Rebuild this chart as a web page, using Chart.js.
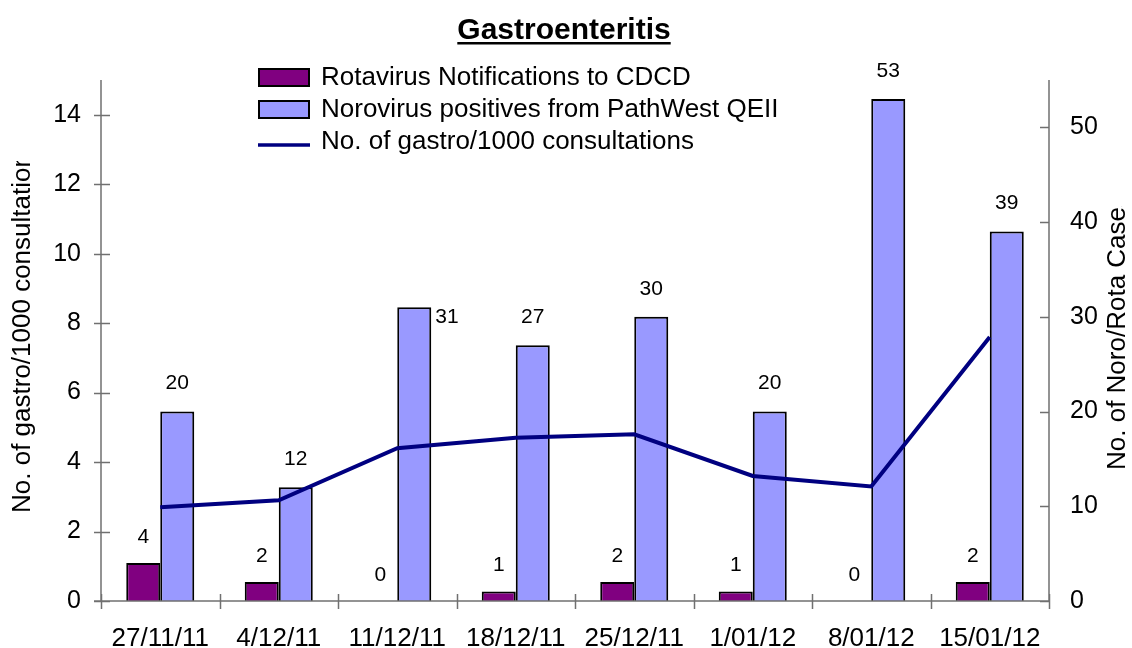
<!DOCTYPE html>
<html>
<head>
<meta charset="utf-8">
<script src="https://cdn.jsdelivr.net/npm/chart.js@4.4.0/dist/chart.umd.min.js"></script>
<style>
  body { margin: 0; background: #fff; }
  #wrap { width: 1132px; height: 648px; position: relative; }
</style>
</head>
<body>
<div id="wrap"><canvas id="myCanvas"></canvas></div>
<script>
// data
const semanas = ["27/11/11", "4/12/11", "11/12/11", "18/12/11", "25/12/11", "1/01/12", "8/01/12", "15/01/12"];
const rotavirus = [4, 2, 0, 1, 2, 1, 0, 2];
const norovirus = [20, 12, 31, 27, 30, 20, 53, 39];
const gastro = [2.7, 2.9, 4.4, 4.7, 4.8, 3.6, 3.3, 7.6];
const ticksIzq = [0, 2, 4, 6, 8, 10, 12, 14];
const ticksDer = [0, 10, 20, 30, 40, 50];

const titulo = "Gastroenteritis";
const tituloIzq = "No. of gastro/1000 consultations";
const tituloDer = "No. of Noro/Rota Cases";
const nombres = ["Rotavirus Notifications to CDCD", "Norovirus positives from PathWest QEII", "No. of gastro/1000 consultations"];

const FUENTE = "'Liberation Sans', Arial, sans-serif";
const gris = "#707070";
const colorRota = "#800080";
const colorNoro = "#9999FF";
const colorLinea = "#000080";

let canvas = document.getElementById("myCanvas");

// ejes, titulos, leyenda y etiquetas dibujados a mano
const extras = {
  id: "extras",
  afterDatasetsDraw(chart) {
    const ctx = chart.ctx;
    const a = chart.chartArea;
    const y = chart.scales.y;
    const y1 = chart.scales.y1;

    ctx.save();
    ctx.strokeStyle = gris;
    ctx.lineWidth = 1.5;
    ctx.beginPath();
    // ejes
    ctx.moveTo(a.left, a.top); ctx.lineTo(a.left, a.bottom);
    ctx.moveTo(a.right, a.top); ctx.lineTo(a.right, a.bottom);
    ctx.moveTo(a.left - 7, a.bottom); ctx.lineTo(a.right + 1, a.bottom);
    // marcas izq (cruzan el eje)
    ticksIzq.forEach(v => {
      const py = Math.round(y.getPixelForValue(v)) + 0.5;
      ctx.moveTo(a.left - 7, py); ctx.lineTo(a.left + 9, py);
    });
    // marcas der (hacia dentro)
    ticksDer.forEach(v => {
      const py = Math.round(y1.getPixelForValue(v)) + 0.5;
      ctx.moveTo(a.right - 9, py); ctx.lineTo(a.right, py);
    });
    // marcas x entre categorias
    const paso = (a.right - a.left) / semanas.length;
    for (let k = 0; k <= semanas.length; k++) {
      const px = Math.round(a.left + k * paso) + 0.5;
      ctx.moveTo(px, a.bottom - 7); ctx.lineTo(px, a.bottom + 8);
    }
    ctx.stroke();

    // etiquetas de las barras
    ctx.fillStyle = "#000";
    ctx.font = "21px " + FUENTE;
    ctx.textAlign = "center";
    ctx.textBaseline = "middle";
    [0, 1].forEach(d => {
      const meta = chart.getDatasetMeta(d);
      const vals = chart.data.datasets[d].data;
      meta.data.forEach((el, i) => {
        if (d === 1 && i === 2) {
          // esta etiqueta va al lado de la barra
          ctx.textAlign = "left";
          ctx.fillText(String(vals[i]), el.x + el.width / 2 + 4, el.y + 10);
          ctx.textAlign = "center";
        } else {
          ctx.fillText(String(vals[i]), el.x, el.y - (d === 0 ? 26 : 28));
        }
      });
    });

    // titulo
    ctx.font = "bold 30px " + FUENTE;
    ctx.textBaseline = "alphabetic";
    ctx.fillText(titulo, 564, 39);
    const w = ctx.measureText(titulo).width;
    ctx.fillRect(564 - w / 2, 42, w, 2.5);

    // leyenda
    ctx.font = "26px " + FUENTE;
    ctx.textAlign = "left";
    ctx.textBaseline = "middle";
    const filas = [77, 109, 141];
    [colorRota, colorNoro].forEach((c, i) => {
      ctx.fillStyle = c;
      ctx.fillRect(259, filas[i] - 8, 50, 17);
      ctx.strokeStyle = "#000";
      ctx.lineWidth = 2;
      ctx.strokeRect(259, filas[i] - 8, 50, 17);
    });
    ctx.strokeStyle = colorLinea;
    ctx.lineWidth = 3.5;
    ctx.beginPath();
    ctx.moveTo(258, filas[2] + 4); ctx.lineTo(310, filas[2] + 4);
    ctx.stroke();
    ctx.fillStyle = "#000";
    nombres.forEach((n, i) => ctx.fillText(n, 321, filas[i] + 1));

    // titulos de ejes (recortados como en el original)
    ctx.font = "26px " + FUENTE;
    ctx.save();
    ctx.beginPath();
    ctx.rect(0, 161, 60, 460);
    ctx.clip();
    ctx.translate(23, 513);
    ctx.rotate(-Math.PI / 2);
    ctx.fillText(tituloIzq, 0, 0);
    ctx.restore();

    ctx.save();
    ctx.beginPath();
    ctx.rect(1095, 206, 37, 400);
    ctx.clip();
    ctx.translate(1118, 470);
    ctx.rotate(-Math.PI / 2);
    ctx.fillText(tituloDer, 0, 0);
    ctx.restore();

    ctx.restore();
  }
};

const generarGrafica = () => {
  window.chart = new Chart(canvas, {
    type: "bar",
    data: {
      labels: semanas,
      datasets: [
        {
          label: nombres[0],
          data: rotavirus,
          yAxisID: "y1",
          backgroundColor: colorRota,
          borderColor: "#000",
          borderWidth: 2,
          borderSkipped: "bottom",
          categoryPercentage: 0.574,
          barPercentage: 1,
          order: 1,
        },
        {
          label: nombres[1],
          data: norovirus,
          yAxisID: "y1",
          backgroundColor: colorNoro,
          borderColor: "#000",
          borderWidth: 2,
          borderSkipped: "bottom",
          categoryPercentage: 0.574,
          barPercentage: 1,
          order: 1,
        },
        {
          type: "line",
          label: nombres[2],
          data: gastro,
          yAxisID: "y",
          borderColor: colorLinea,
          borderWidth: 4,
          pointRadius: 0,
          tension: 0,
          order: 0,
        },
      ],
    },
    options: {
      responsive: true,
      maintainAspectRatio: false,
      animation: false,
      layout: { padding: { top: 80, left: 0, right: 0, bottom: 0 } },
      plugins: {
        legend: { display: false },
        title: { display: false },
        tooltip: { enabled: false },
      },
      scales: {
        x: {
          grid: { display: false, drawTicks: false },
          border: { display: false },
          ticks: {
            color: "#000",
            font: { family: FUENTE, size: 26 },
            padding: 22,
            maxRotation: 0,
            autoSkip: false,
          },
          afterFit: (s) => { s.height = 47; },
        },
        y: {
          position: "left",
          min: 0,
          max: 15,
          grid: { display: false, drawTicks: false },
          border: { display: false },
          ticks: { color: "#000", font: { family: FUENTE, size: 25 }, padding: 20 },
          afterBuildTicks: (s) => { s.ticks = ticksIzq.map(v => ({ value: v })); },
          afterFit: (s) => { s.width = 101; },
        },
        y1: {
          position: "right",
          min: 0,
          max: 55,
          grid: { display: false, drawTicks: false },
          border: { display: false },
          ticks: { color: "#000", font: { family: FUENTE, size: 25 }, padding: 21 },
          afterBuildTicks: (s) => { s.ticks = ticksDer.map(v => ({ value: v })); },
          afterFit: (s) => { s.width = 83; },
        },
      },
    },
    plugins: [extras],
  });
};

window.onload = () => {
  generarGrafica();
};
</script>
</body>
</html>
